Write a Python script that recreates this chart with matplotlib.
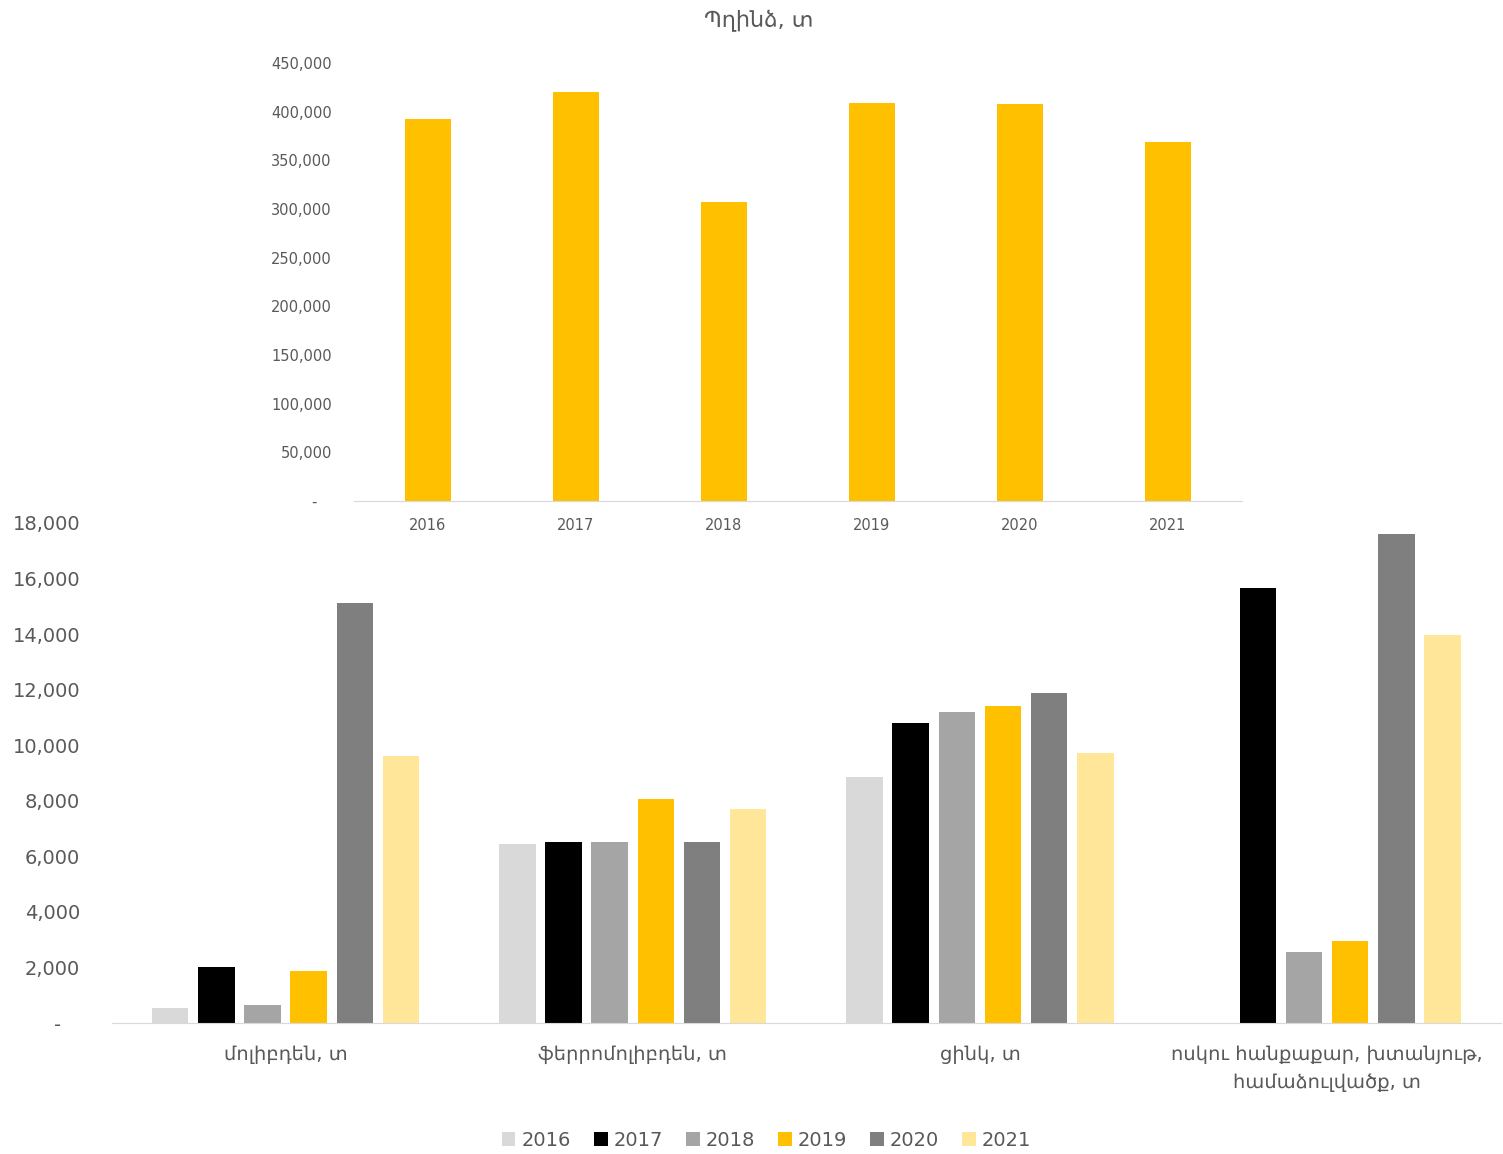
import numpy as np
import matplotlib
matplotlib.use("Agg")
import matplotlib.pyplot as plt
from matplotlib.ticker import FuncFormatter, MultipleLocator
from matplotlib.patches import Patch

plt.rcParams["font.family"] = ["DejaVu Sans"]

# copper chart
copper_years = ["2016", "2017", "2018", "2019", "2020", "2021"]
copper_values = [392000, 420000, 307000, 409000, 408000, 369000]
copper_title = "Պղինձ, տ"

# grouped chart
categories = ["մոլիբդեն, տ", "ֆերրոմոլիբդեն, տ", "ցինկ, տ",
              "ոսկու հանքաքար, խտանյութ,\nհամաձուլվածք, տ"]
series_years = ["2016", "2017", "2018", "2019", "2020", "2021"]
series_values = [
    [540, 6440, 8850, 0],        # 2016
    [2010, 6520, 10800, 15660],  # 2017
    [650, 6520, 11190, 2560],    # 2018
    [1870, 8060, 11410, 2950],   # 2019
    [15120, 6520, 11880, 17600], # 2020
    [9610, 7700, 9720, 13970],   # 2021
]
colors = ["#D9D9D9", "#000000", "#A5A5A5", "#FFC000", "#7F7F7F", "#FFE699"]

TXT = "#595959"
GRID = "#D9D9D9"


def fmt_thousands(v, pos):
    if abs(v) < 1e-9:
        return "-   "
    return f"{v:,.0f}"


fig = plt.figure(figsize=(15.03, 11.54), dpi=100)

# ---- bottom: grouped bars (added first so the top chart's labels sit above it)
ax2 = fig.add_axes([0.0745, 0.1135, 0.924, 0.4333])
ax2.patch.set_alpha(0)
x2 = np.arange(len(categories))
step = 0.133
bw = 0.105
n = len(series_years)
for j, (yr, vals) in enumerate(zip(series_years, series_values)):
    ax2.bar(x2 + (j - (n - 1) / 2) * step, vals, width=bw, color=colors[j], label=yr)
ax2.set_xlim(-0.5, len(categories) - 0.5)
ax2.set_ylim(0, 18000)
ax2.yaxis.set_major_locator(MultipleLocator(2000))
ax2.yaxis.set_major_formatter(FuncFormatter(fmt_thousands))
ax2.set_xticks(x2)
ax2.set_xticklabels(categories, linespacing=1.6)
for s in ["top", "right", "left"]:
    ax2.spines[s].set_visible(False)
ax2.spines["bottom"].set_color(GRID)
ax2.tick_params(axis="x", length=0, pad=16, labelsize=14, labelcolor=TXT)
ax2.tick_params(axis="y", length=0, pad=23, labelsize=14, labelcolor=TXT)

# ---- top: copper
ax1 = fig.add_axes([0.2355, 0.5659, 0.5908, 0.3795])
ax1.patch.set_alpha(0)
x1 = np.arange(len(copper_years))
ax1.bar(x1, copper_values, width=0.31, color="#FFC000")
ax1.set_xlim(-0.5, len(copper_years) - 0.5)
ax1.set_ylim(0, 450000)
ax1.yaxis.set_major_locator(MultipleLocator(50000))
ax1.yaxis.set_major_formatter(FuncFormatter(fmt_thousands))
ax1.set_xticks(x1)
ax1.set_xticklabels(copper_years)
for s in ["top", "right", "left"]:
    ax1.spines[s].set_visible(False)
ax1.spines["bottom"].set_color(GRID)
ax1.tick_params(axis="x", length=0, pad=12, labelsize=10.5, labelcolor=TXT)
ax1.tick_params(axis="y", length=0, pad=16, labelsize=10.5, labelcolor=TXT)
fig.text(0.505, 0.982, copper_title, ha="center", va="center", fontsize=16, color=TXT)

handles = [Patch(facecolor=c, edgecolor="none") for c in colors]
fig.legend(handles, series_years, loc="center", bbox_to_anchor=(0.51, 0.012),
           ncol=6, frameon=False, fontsize=14, labelcolor=TXT,
           handlelength=0.7, handleheight=0.7, handletextpad=0.3, columnspacing=1.2)

fig.savefig("out.png", dpi=100)
